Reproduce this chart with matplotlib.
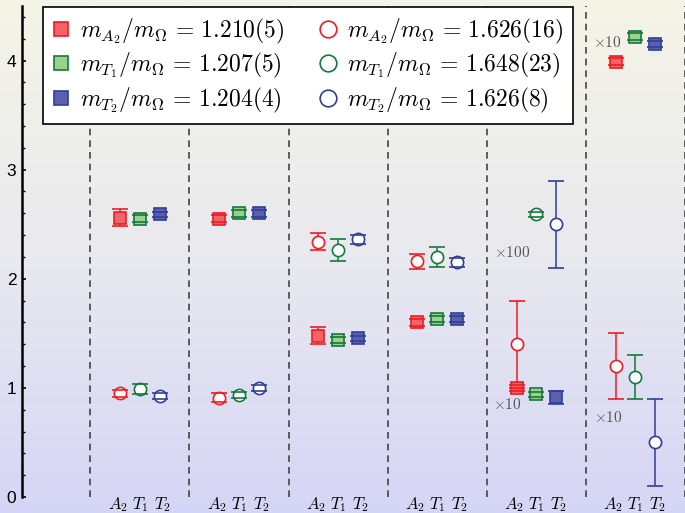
import numpy as np
import matplotlib.pyplot as plt
from matplotlib.colors import LinearSegmentedColormap
from matplotlib.lines import Line2D

plt.rcParams['mathtext.fontset'] = 'cm'
plt.rcParams['font.family'] = ['serif']
plt.rcParams['font.serif'] = ['DejaVu Serif']

# group positions and channel labels
groups = [1, 2, 3, 4, 5, 6]
channels = ['$A_2$', '$T_1$', '$T_2$']

# filled squares (first set of masses)
sq_A2 = [2.56, 2.55, 1.48, 1.60, 1.00, 3.99]
sq_A2_err = [0.08, 0.03, 0.075, 0.03, 0.03, 0.03]
sq_T1 = [2.55, 2.60, 1.44, 1.63, 0.94, 4.22]
sq_T1_err = [0.03, 0.03, 0.025, 0.025, 0.025, 0.03]
sq_T2 = [2.59, 2.60, 1.455, 1.63, 0.915, 4.15]
sq_T2_err = [0.025, 0.03, 0.025, 0.025, 0.06, 0.03]

# open circles (second set of masses)
ci_A2 = [0.95, 0.91, 2.34, 2.16, 1.40, 1.20]
ci_A2_err = [0.03, 0.04, 0.08, 0.07, 0.40, 0.30]
ci_T1 = [0.99, 0.935, 2.26, 2.20, 2.59, 1.10]
ci_T1_err = [0.05, 0.03, 0.10, 0.095, 0.025, 0.20]
ci_T2 = [0.925, 1.00, 2.36, 2.15, 2.50, 0.50]
ci_T2_err = [0.03, 0.03, 0.045, 0.04, 0.40, 0.40]

sq_labels = [r'$m_{A_2}/m_\Omega\,=\,1.210(5)$',
             r'$m_{T_1}/m_\Omega\,=\,1.207(5)$',
             r'$m_{T_2}/m_\Omega\,=\,1.204(4)$']
ci_labels = [r'$m_{A_2}/m_\Omega\,=\,1.626(16)$',
             r'$m_{T_1}/m_\Omega\,=\,1.648(23)$',
             r'$m_{T_2}/m_\Omega\,=\,1.626(8)$']

# scale notes: (text, x, y)
notes = [(r'$\times 100$', 4.76, 2.24),
         (r'$\times 10$', 4.71, 0.85),
         (r'$\times 10$', 5.72, 4.17),
         (r'$\times 10$', 5.73, 0.73)]

line_cols = ['#ee1c24', '#137a3c', '#2f3f98']
fill_cols = ['#f26468', '#9cd08e', '#5a60ad']
offsets = [-0.2, 0.0, 0.2]

fig = plt.figure(figsize=(6.85, 5.13), dpi=100)

# background gradient
bg = fig.add_axes([0, 0, 1, 1], zorder=-10)
cmap = LinearSegmentedColormap.from_list('bg', ['#f4f4e6', '#e9e9ef', '#d5d5f6'])
bg.imshow(np.linspace(0, 1, 256).reshape(-1, 1), aspect='auto', cmap=cmap,
          extent=[0, 1, 0, 1])
bg.axis('off')

ax = fig.add_axes([22/685, 1-497/513, 1-22/685, (497-6)/513])
ax.patch.set_alpha(0)

def draw(vals, errs, k, marker, filled):
    x = np.array(groups) + offsets[k]
    c = ax.errorbar(x, vals, yerr=errs, fmt=marker,
                    ms=8.0 if marker == 's' else 8.8,
                    mfc=fill_cols[k] if filled else 'white', mec=line_cols[k], mew=1.2,
                    ecolor=line_cols[k], elinewidth=1.1, capsize=5.8, capthick=1.1)
    c[0].set_zorder(3)
    for cl in c[1]:
        cl.set_zorder(4)
    for bl in c[2]:
        bl.set_zorder(2)

for k, (v, e) in enumerate([(sq_A2, sq_A2_err), (sq_T1, sq_T1_err), (sq_T2, sq_T2_err)]):
    draw(v, e, k, 's', True)
for k, (v, e) in enumerate([(ci_A2, ci_A2_err), (ci_T1, ci_T1_err), (ci_T2, ci_T2_err)]):
    draw(v, e, k, 'o', False)

for xv in np.arange(0.5, 7.0, 1.0):
    ax.axvline(xv, color='#444444', lw=1.2, ls=(0, (4, 3)), zorder=1)

for txt, x, y in notes:
    ax.text(x, y, txt, ha='center', va='center', fontsize=11, color='#555555')

ax.set_xlim(-0.19, 6.5)
ax.set_ylim(0, 4.5)
ax.set_yticks([0, 1, 2, 3, 4])
ax.set_yticks(np.arange(0, 4.5, 0.2), minor=True)
ax.set_yticklabels(['0', '1', '2', '3', '4'], family='Liberation Sans', fontsize=12.5)
ax.tick_params(axis='y', which='major', direction='in', length=3, width=1.2, pad=4)
ax.tick_params(axis='y', which='minor', direction='in', length=1.8, width=1.0)

xt = [g + o * 1.12 for g in groups for o in offsets]
ax.set_xticks(xt)
ax.set_xticklabels(channels * len(groups), fontsize=12)
ax.tick_params(axis='x', length=0, pad=-1.5)

for s in ['top', 'right', 'bottom']:
    ax.spines[s].set_visible(False)
ax.spines['left'].set_linewidth(1.8)

handles = []
labels = []
for k in range(3):
    handles.append(Line2D([], [], ls='none', marker='s', ms=10, mfc=fill_cols[k],
                          mec=line_cols[k], mew=1.2))
    labels.append(sq_labels[k])
for k in range(3):
    handles.append(Line2D([], [], ls='none', marker='o', ms=12, mfc='none',
                          mec=line_cols[k], mew=1.2))
    labels.append(ci_labels[k])

leg = ax.legend(handles, labels, ncol=2, loc='upper left',
                bbox_to_anchor=(43/685, 1-7/513), bbox_transform=fig.transFigure,
                borderaxespad=0, fancybox=False, framealpha=1, edgecolor='black',
                fontsize=17, handlelength=0.7, handletextpad=0.45,
                columnspacing=1.5, labelspacing=0.2, borderpad=0.4)
leg.get_frame().set_linewidth(1.2)
leg.set_zorder(10)

fig.savefig('out.png', dpi=100)
